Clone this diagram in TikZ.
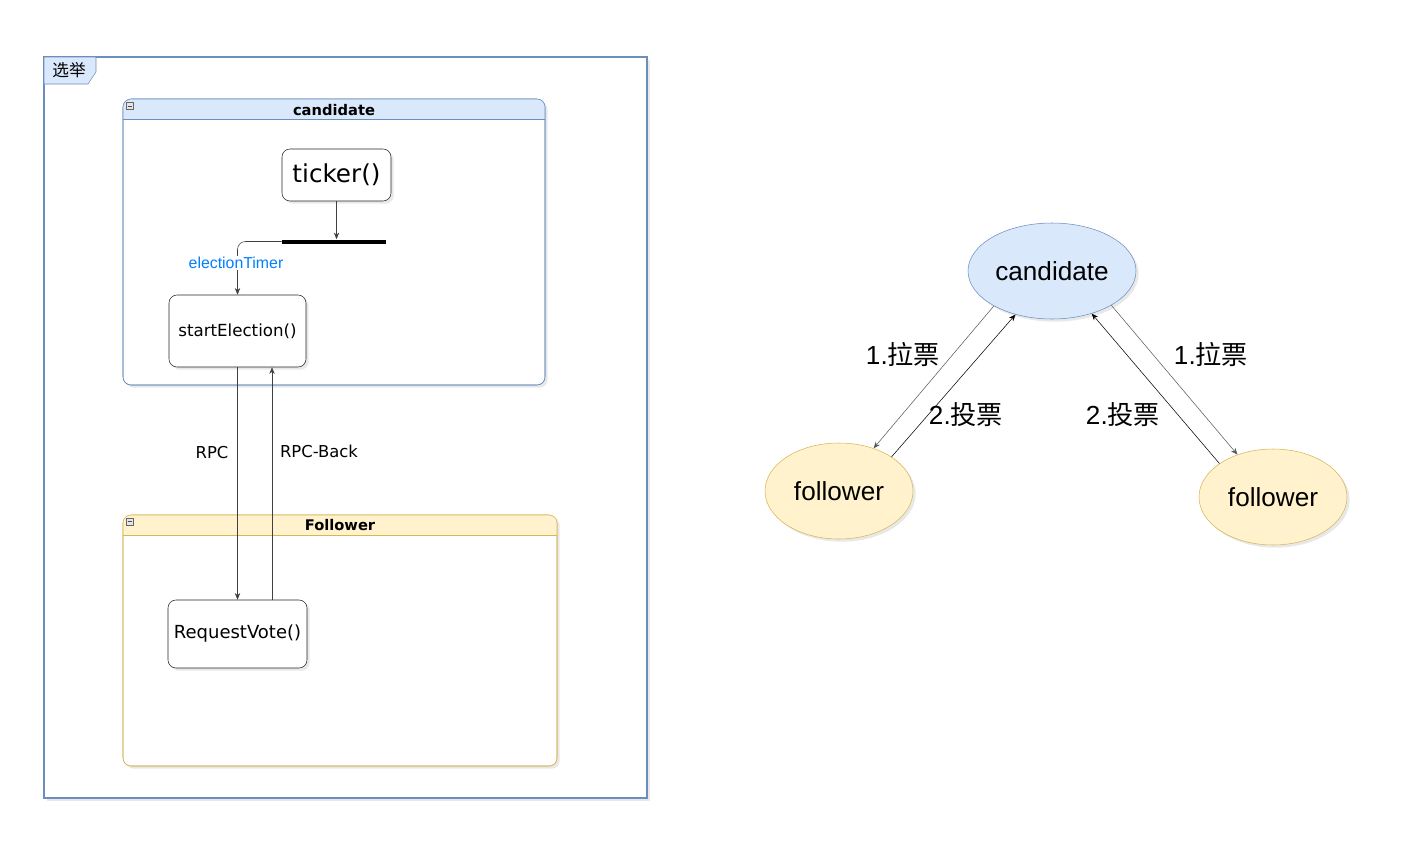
\documentclass[tikz,border=0pt]{standalone}
\usepackage{fontspec}
\setmainfont{Liberation Sans}
\newfontfamily\cjk{Noto Sans CJK SC}
\newfontfamily\comic{DejaVu Sans}
\usetikzlibrary{shapes.geometric,arrows.meta,shadows,calc}
\definecolor{blueS}{HTML}{6C8EBF}
\definecolor{blueF}{HTML}{DAE8FC}
\definecolor{yelS}{HTML}{D6B656}
\definecolor{yelF}{HTML}{FFF2CC}
\definecolor{elec}{HTML}{007FFF}
\tikzset{
  shad/.style={drop shadow={opacity=0.18,shadow xshift=2pt,shadow yshift=-2pt}},
  fnbox/.style={draw=black!85,fill=white,rounded corners=6pt,shad,inner sep=0pt,font=\comic},
  lanetitle/.style={font=\comic\bfseries\fontsize{11}{13}\selectfont},
  lbl/.style={font=\comic\fontsize{12.3}{14}\selectfont,inner sep=1pt},
  arr/.style={draw=black!75,-{Stealth[length=5pt,width=4pt]}},
  st/.style={ellipse,inner sep=0pt,minimum width=126pt,minimum height=72pt,shad,font=\fontsize{19.6}{22}\selectfont},
  bigl/.style={font=\fontsize{19.6}{22}\selectfont,inner sep=1pt},
  minusicon/.style={draw=black!60,fill=black!10,minimum size=5pt,inner sep=0pt}
}
\begin{document}
\begin{tikzpicture}[x=0.75pt,y=-0.75pt]
\useasboundingbox (0,0) rectangle (1424,843);
% outer frame
\node[draw=blueS,line width=1pt,fill=white,minimum width=452.25pt,minimum height=555.75pt,inner sep=0pt,shad] (frame) at (345.5,427.5) {};
\fill[blueF,draw=blueS] (44,57) -- (96,57) -- (96,72) -- (88,84) -- (44,84) -- cycle;
\node[font=\cjk\fontsize{12.5}{14}\selectfont,inner sep=0pt] (tab) at (69,70.5) {选举};
% candidate lane
\node[draw=blueS,fill=white,rounded corners=6pt,minimum width=316.5pt,minimum height=214.5pt,inner sep=0pt,shad] (candLane) at (334,242) {};
\fill[blueF] (123,119) [rounded corners=6pt]-- (123,99) -- (545,99) [sharp corners]-- (545,119) -- cycle;
\draw[blueS] (123,119) -- (545,119);
\draw[blueS,rounded corners=6pt] (123,385) rectangle (545,99);
\node[minusicon] (candMin) at (129.5,106) {};
\draw[black!70] (127.5,106) -- (131.5,106);
\node[lanetitle] (candTitle) at (334,110.5) {candidate};
% follower lane
\node[draw=yelS,fill=white,rounded corners=6pt,minimum width=325.5pt,minimum height=188.25pt,inner sep=0pt,shad] (follLane) at (340,640.5) {};
\fill[yelF] (123,535) [rounded corners=6pt]-- (123,515) -- (557,515) [sharp corners]-- (557,535) -- cycle;
\draw[yelS] (123,535) -- (557,535);
\draw[yelS,rounded corners=6pt] (123,766) rectangle (557,515);
\node[minusicon] (follMin) at (129.5,521.5) {};
\draw[black!70] (127.5,521.5) -- (131.5,521.5);
\node[lanetitle] (follTitle) at (340,525) {Follower};
% function boxes
\node[fnbox,minimum width=81.75pt,minimum height=39pt,font=\comic\fontsize{18.5}{21}\selectfont] (ticker) at (336.5,175) {ticker()};
\node[fill=black,minimum width=78pt,minimum height=3pt,inner sep=0pt] (bar) at (334,241.5) {};
\node[fnbox,minimum width=102.75pt,minimum height=54pt,font=\comic\fontsize{12.5}{14}\selectfont] (startE) at (237.5,331) {startElection()};
\node[fnbox,minimum width=104.25pt,minimum height=51pt,font=\comic\fontsize{13.5}{15}\selectfont] (reqV) at (237.5,634) {RequestVote()};
% connectors
\draw[arr] (ticker.south) -- (ticker.south |- bar.north);
\draw[arr,rounded corners=6pt] (bar.west) -| (startE.north);
\node[font=\fontsize{11.9}{13}\selectfont,text=elec,fill=white,inner sep=1pt] (etLbl) at (236,263) {electionTimer};
\draw[arr] (startE.south) -- (reqV.north);
\draw[arr] ($(reqV.north)+(34.5,0)$) -- ($(startE.south)+(34.5,0)$);
\node[lbl] (rpcLbl) at (212,453) {RPC};
\node[lbl] (rpcbLbl) at (319,451) {RPC-Back};
% right diagram
\node[st,draw=blueS,fill=blueF] (cand) at (1052,271) {candidate};
\node[st,draw=yelS,fill=yelF,minimum width=111pt] (f1) at (839,491) {follower};
\node[st,draw=yelS,fill=yelF,minimum width=111pt] (f2) at (1273,497) {follower};
\draw[draw=black!65,-{Stealth[length=5pt,width=4pt]}] (cand.211) -- (f1.51);
\draw[draw=black,-{Stealth[length=5pt,width=4pt]}] (f1.33) -- (cand.230);
\draw[draw=black!65,-{Stealth[length=5pt,width=4pt]}] (cand.330) -- (f2.130);
\draw[draw=black,-{Stealth[length=5pt,width=4pt]}] (f2.148) -- (cand.313);
\node[bigl] (l1) at (903,354) {1.{\cjk 拉票}};
\node[bigl] (l2) at (966,415) {2.{\cjk 投票}};
\node[bigl] (l3) at (1211,354) {1.{\cjk 拉票}};
\node[bigl] (l4) at (1123,415) {2.{\cjk 投票}};
\end{tikzpicture}
\end{document}
